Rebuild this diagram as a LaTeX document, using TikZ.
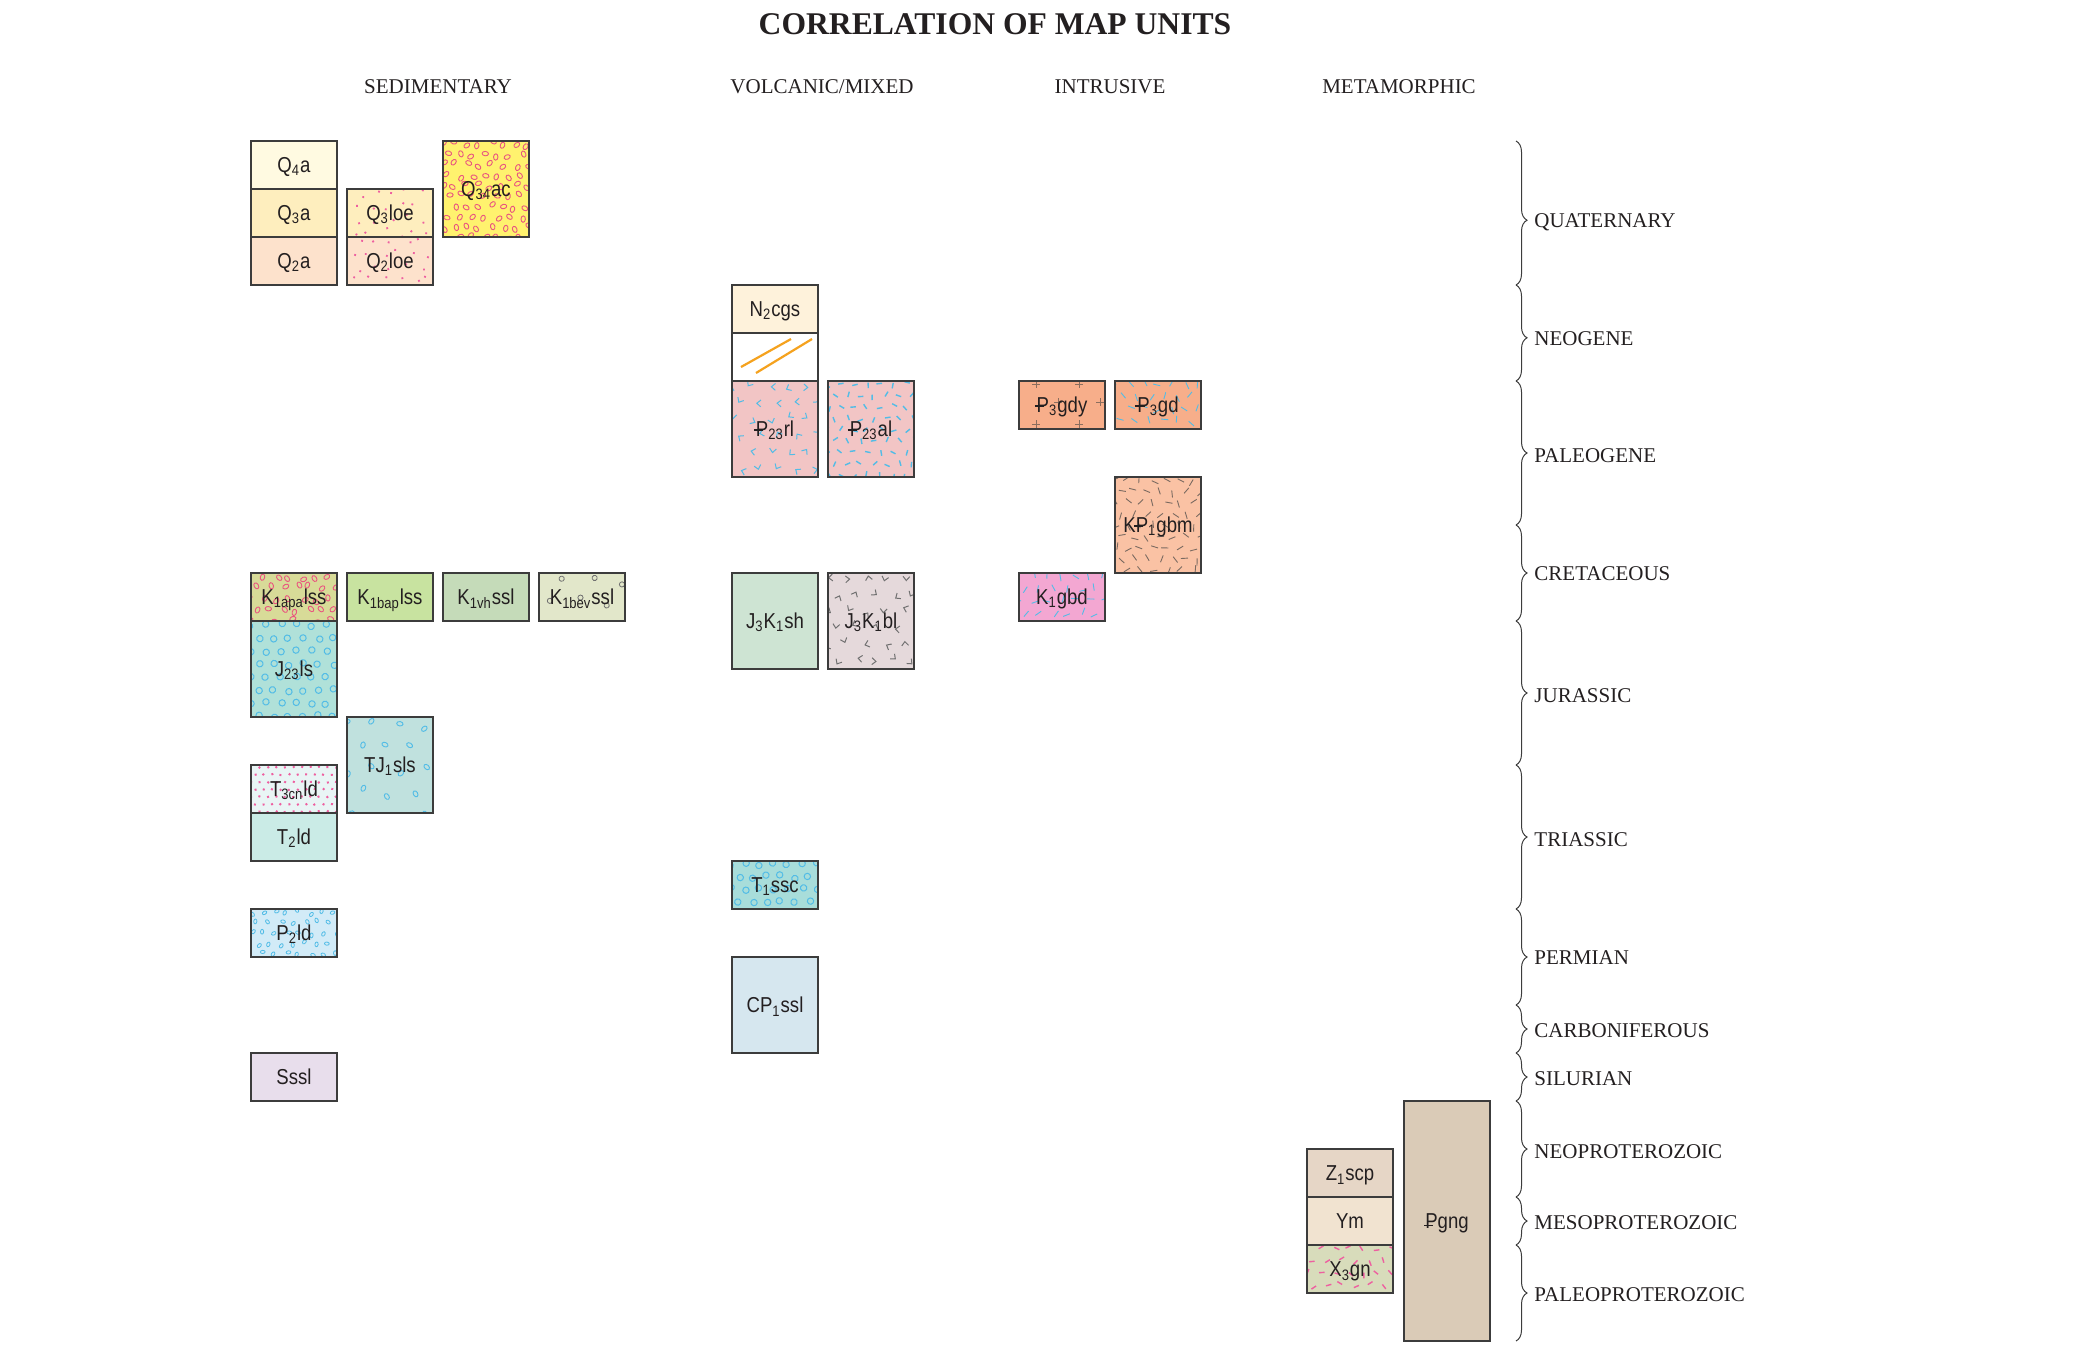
\documentclass[tikz,border=0pt]{standalone}
\usepackage{fontspec}
\setmainfont{Liberation Serif}
\newfontfamily\unitfont[FakeStretch=0.86]{Liberation Sans}
\usetikzlibrary{decorations.pathreplacing}

\definecolor{boxline}{HTML}{3C3C3C}
\definecolor{txt}{HTML}{231F20}
\definecolor{mkred}{HTML}{E9567F}
\definecolor{mkpinkd}{HTML}{EE5FA0}
\definecolor{mkblue}{HTML}{52BCE6}
\definecolor{mkgray}{HTML}{707070}
\definecolor{mkbrgray}{HTML}{7A6A60}
\definecolor{mkbrown}{HTML}{8B6E5E}
\definecolor{orangeln}{HTML}{F5A21E}
\definecolor{cQfoura}{HTML}{FFFAE1}
\definecolor{cQthreea}{HTML}{FEEEBE}
\definecolor{cQtwoa}{HTML}{FDE2CC}
\definecolor{cQac}{HTML}{FFF26E}
\definecolor{cNcgs}{HTML}{FEF2DB}
\definecolor{cPrl}{HTML}{F2C5C5}
\definecolor{cPgd}{HTML}{F7AE8A}
\definecolor{cKPgbm}{HTML}{FAC2A4}
\definecolor{cKgbd}{HTML}{F3A7D2}
\definecolor{cKapa}{HTML}{D8DB98}
\definecolor{cKbap}{HTML}{C8E3A0}
\definecolor{cKvh}{HTML}{C5DBB9}
\definecolor{cKbev}{HTML}{E2E7CA}
\definecolor{cJls}{HTML}{B0E1D9}
\definecolor{cTJsls}{HTML}{C0E1DE}
\definecolor{cTcn}{HTML}{E9F5F5}
\definecolor{cTld}{HTML}{CAEBE6}
\definecolor{cPld}{HTML}{D2EBF7}
\definecolor{cSssl}{HTML}{E8DEEC}
\definecolor{cJKsh}{HTML}{CEE4D3}
\definecolor{cJKbl}{HTML}{E5D9DB}
\definecolor{cTssc}{HTML}{A8DDDA}
\definecolor{cCPssl}{HTML}{D6E7EF}
\definecolor{cZscp}{HTML}{E6D6C6}
\definecolor{cYm}{HTML}{F1E3D0}
\definecolor{cXgn}{HTML}{D8DCBB}
\definecolor{cPgng}{HTML}{DACBB7}

\newcommand\Pg{\makebox[0pt][l]{\kern-0.09em\rule[0.27em]{0.42em}{0.07em}}P}
\newcommand\Pgc{\makebox[0pt][l]{\kern-0.05em\rule[0.12em]{0.42em}{0.07em}}P}
\newcommand\sbs[1]{\textsubscript{#1}}

\tikzset{
  ubox/.style={draw=boxline, line width=0.75pt, minimum width=43pt, minimum height=24pt,
    inner sep=0pt, text=txt, text height=7.7pt, text depth=0pt,
    font=\unitfont\fontsize{10.8}{12}\selectfont},
  mkdot/.pic={\fill (0,0) circle[radius=0.65pt];},
  mkdots/.pic={\fill (0,0) circle[radius=0.7pt];},
  mkoval/.pic={\draw[line width=0.45pt] (0,0) ellipse[x radius=1.1pt, y radius=1.6pt];},
  mkovals/.pic={\draw[line width=0.4pt] (0,0) ellipse[x radius=0.8pt, y radius=1.2pt];},
  mkcirc/.pic={\draw[line width=0.5pt] (0,0) circle[radius=1.6pt];},
  mkcircs/.pic={\draw[line width=0.4pt] (0,0) circle[radius=1.3pt];},
  mkchev/.pic={\draw[line width=0.5pt] (-1.7pt,-1.4pt) -- (0,0.6pt) -- (1.7pt,-1.4pt);},
  mkdash/.pic={\draw[line width=0.7pt] (-1.4pt,0) -- (1.4pt,0);},
  mkdashl/.pic={\draw[line width=0.45pt] (-1.8pt,0) -- (1.8pt,0);},
  brc/.style={decorate, decoration={brace, amplitude=5.5pt, #1}, draw=boxline, line width=0.5pt},
  brc/.default={aspect=0.5},
  era/.style={anchor=west, font=\fontsize{10.5}{12}\selectfont, text=txt, inner sep=0pt,
    text height=7pt, text depth=0pt},
  head/.style={font=\fontsize{10.5}{12}\selectfont, text=txt, inner sep=0pt},
}

% a map-unit box: name, centre x, centre y, rows, fill, pattern code, label
\newcommand\unitbox[7]{%
  \pgfmathsetmacro\xo{#2-43}\pgfmathsetmacro\yo{#3-24*#4}\pgfmathsetmacro\hh{48*#4}%
  \fill[#5] (\xo,\yo) rectangle ++(86,\hh);
  #6
  \node[ubox, minimum height=24pt*#4] (#1) at (#2,#3) {#7};
}
% scattered marks in the current box: spacing, jitter, pic, colour
\newcommand\scat[4]{%
  \begin{scope}
    \clip (\xo,\yo) rectangle ++(86,\hh);
    \pgfmathtruncatemacro\nx{86/#1+1}%
    \pgfmathtruncatemacro\ny{\hh/(#1*0.87)+1}%
    \foreach \iy in {0,...,\ny}{\foreach \ix in {-1,...,\nx}{
      \pgfmathsetmacro\px{\xo+(\ix+0.5*mod(\iy,2))*#1+(rnd-0.5)*#2}
      \pgfmathsetmacro\py{\yo+(\iy+0.3)*#1*0.87+(rnd-0.5)*#2}
      \pgfmathsetmacro\pr{rnd*360}
      \pic[color=#4, rotate=\pr] at (\px,\py) {#3};
    }}
  \end{scope}}
\newcommand\crossmarks{%
  \begin{scope}
    \clip (\xo,\yo) rectangle ++(86,\hh);
    \foreach \a/\b in {17/3,60/3,39/21,81/21,-4/21,17/43,60/43}{
      \draw[mkbrown, line width=0.45pt] (\xo+\a-4,\yo+\b) -- (\xo+\a+4,\yo+\b)
        (\xo+\a,\yo+\b-4) -- (\xo+\a,\yo+\b+4);
    }
  \end{scope}}
\newcommand\dikelines{%
  \draw[orangeln, line width=1.1pt] (\xo+9,\yo+34) -- (\xo+59,\yo+6) (\xo+24,\yo+40) -- (\xo+80,\yo+6);}

\begin{document}
\begin{tikzpicture}[x=0.5pt, y=-0.5pt]
\pgfmathsetseed{7}
\useasboundingbox (0,0) rectangle (2099,1345);

% title and headers
\node[font=\bfseries\fontsize{15.8}{18}\selectfont, text=txt] (title) at (995,24) {CORRELATION OF MAP UNITS};
\node[head] (hsed) at (438,87) {SEDIMENTARY};
\node[head] (hvol) at (822,87) {VOLCANIC/MIXED};
\node[head] (hint) at (1110,87) {INTRUSIVE};
\node[head] (hmet) at (1399,87) {METAMORPHIC};

% sedimentary
\unitbox{q4a}{294}{165}{1}{cQfoura}{}{Q\sbs{4}a}
\unitbox{q3a}{294}{213}{1}{cQthreea}{}{Q\sbs{3}a}
\unitbox{q2a}{294}{261}{1}{cQtwoa}{}{Q\sbs{2}a}
\unitbox{q3loe}{390}{213}{1}{cQthreea}{\scat{15}{9}{mkdot}{mkpinkd}}{Q\sbs{3}loe}
\unitbox{q2loe}{390}{261}{1}{cQtwoa}{\scat{15}{9}{mkdot}{mkpinkd}}{Q\sbs{2}loe}
\unitbox{q34ac}{486}{189}{2}{cQac}{\scat{12}{6}{mkoval}{mkred}}{Q\sbs{34}ac}

\unitbox{k1apa}{294}{597}{1}{cKapa}{\scat{13}{6}{mkoval}{mkred}}{K\sbs{1apa}lss}
\unitbox{k1bap}{390}{597}{1}{cKbap}{}{K\sbs{1bap}lss}
\unitbox{k1vh}{486}{597}{1}{cKvh}{}{K\sbs{1vh}ssl}
\unitbox{k1bev}{582}{597}{1}{cKbev}{\scat{26}{10}{mkcircs}{mkgray}}{K\sbs{1bev}ssl}
\unitbox{j23ls}{294}{669}{2}{cJls}{\scat{15}{3}{mkcirc}{mkblue}}{J\sbs{23}ls}
\unitbox{tj1sls}{390}{765}{2}{cTJsls}{\scat{26}{10}{mkoval}{mkblue}}{TJ\sbs{1}sls}
\unitbox{t3cn}{294}{789}{1}{cTcn}{\scat{8.5}{1}{mkdots}{mkpinkd}}{T\sbs{3cn}ld}
\unitbox{t2ld}{294}{837}{1}{cTld}{}{T\sbs{2}ld}
\unitbox{p2ld}{294}{933}{1}{cPld}{\scat{12}{5}{mkovals}{mkblue}}{P\sbs{2}ld}
\unitbox{sssl}{294}{1077}{1}{cSssl}{}{Sssl}

% volcanic / mixed
\unitbox{n2cgs}{775}{309}{1}{cNcgs}{}{N\sbs{2}cgs}
\unitbox{dike}{775}{357}{1}{white}{\dikelines}{}
\unitbox{p23rl}{775}{429}{2}{cPrl}{\scat{19}{6}{mkchev}{mkblue}}{\Pg\sbs{23}rl}
\unitbox{p23al}{871}{429}{2}{cPrl}{\scat{13}{4}{mkdash}{mkblue}}{\Pg\sbs{23}al}
\unitbox{j3k1sh}{775}{621}{2}{cJKsh}{}{J\sbs{3}K\sbs{1}sh}
\unitbox{j3k1bl}{871}{621}{2}{cJKbl}{\scat{19}{6}{mkchev}{mkgray}}{J\sbs{3}K\sbs{1}bl}
\unitbox{t1ssc}{775}{885}{1}{cTssc}{\scat{14}{4}{mkcirc}{mkblue}}{T\sbs{1}ssc}
\unitbox{cp1ssl}{775}{1005}{2}{cCPssl}{}{CP\sbs{1}ssl}

% intrusive
\unitbox{p3gdy}{1062}{405}{1}{cPgd}{\crossmarks}{\Pg\sbs{3}gdy}
\unitbox{p3gd}{1158}{405}{1}{cPgd}{\scat{14}{5}{mkdashl}{mkblue}}{\Pg\sbs{3}gd}
\unitbox{kp1gbm}{1158}{525}{2}{cKPgbm}{\scat{13}{5}{mkdashl}{mkbrgray}}{K\Pg\sbs{1}gbm}
\unitbox{k1gbd}{1062}{597}{1}{cKgbd}{\scat{14}{5}{mkdashl}{mkblue}}{K\sbs{1}gbd}

% metamorphic
\unitbox{z1scp}{1350}{1173}{1}{cZscp}{}{Z\sbs{1}scp}
\unitbox{ym}{1350}{1221}{1}{cYm}{}{Ym}
\unitbox{x3gn}{1350}{1269}{1}{cXgn}{\scat{14}{5}{mkdash}{mkpinkd}}{X\sbs{3}gn}
\unitbox{pgng}{1447}{1221}{5}{cPgng}{}{\Pgc gng}

% braces and periods
\draw[brc={aspect=0.55}] (1516,141) -- (1516,285);
\draw[brc={aspect=0.55}] (1516,285) -- (1516,381);
\draw[brc] (1516,381) -- (1516,525);
\draw[brc] (1516,525) -- (1516,621);
\draw[brc] (1516,621) -- (1516,765);
\draw[brc] (1516,765) -- (1516,909);
\draw[brc] (1516,909) -- (1516,1005);
\draw[brc] (1516,1005) -- (1516,1053);
\draw[brc] (1516,1053) -- (1516,1101);
\draw[brc] (1516,1101) -- (1516,1197);
\draw[brc] (1516,1197) -- (1516,1245);
\draw[brc] (1516,1245) -- (1516,1341);

\node[era] (quat) at (1534,220) {QUATERNARY};
\node[era] (neog) at (1534,338) {NEOGENE};
\node[era] (paleog) at (1534,455) {PALEOGENE};
\node[era] (cret) at (1534,573) {CRETACEOUS};
\node[era] (jur) at (1534,695) {JURASSIC};
\node[era] (tri) at (1534,839) {TRIASSIC};
\node[era] (perm) at (1534,957) {PERMIAN};
\node[era] (carb) at (1534,1030) {CARBONIFEROUS};
\node[era] (sil) at (1534,1078) {SILURIAN};
\node[era] (neop) at (1534,1151) {NEOPROTEROZOIC};
\node[era] (mesop) at (1534,1222) {MESOPROTEROZOIC};
\node[era] (paleop) at (1534,1294) {PALEOPROTEROZOIC};
\end{tikzpicture}
\end{document}
